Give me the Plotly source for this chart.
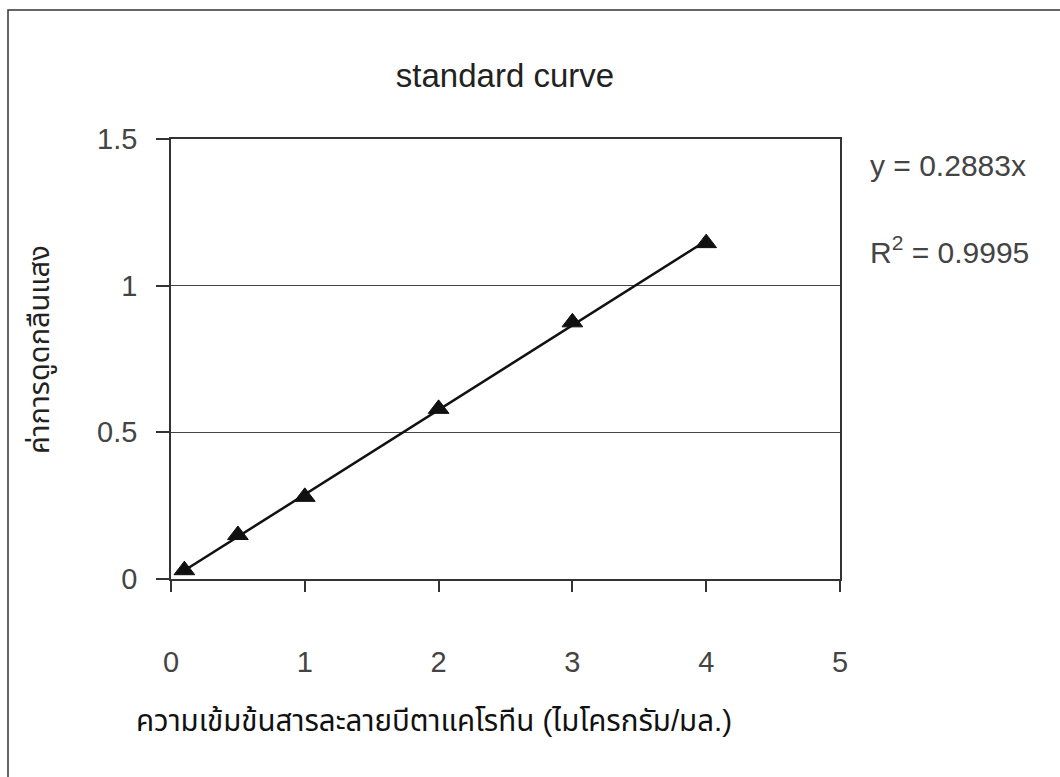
import numpy as np
import plotly.graph_objects as go

# Concentration of beta-carotene standard (µg/ml) and measured absorbance
concentration = [0.1, 0.5, 1, 2, 3, 4]
absorbance = [0.03, 0.15, 0.28, 0.58, 0.875, 1.145]

# Linear trendline forced through the origin
slope = 0.2883
r_squared = 0.9995

x_ticks = [0, 1, 2, 3, 4, 5]
y_ticks = [0, 0.5, 1, 1.5]
y_tick_text = ["0", "0.5", "1", "1.5"]

x_title = "ความเข้มข้นสารละลายบีตาแคโรทีน (ไมโครกรัม/มล.)"
y_title = "ค่าการดูดกลืนแสง"

font_family = "Liberation Sans, Arial, Noto Sans Thai, sans-serif"

FIG_W, FIG_H = 1060, 777
plot_l, plot_r, plot_t, plot_b = 171, 840, 139, 579


def px_x(px):
    return (px - plot_l) / (plot_r - plot_l)


def px_y(py):
    return (plot_b - py) / (plot_b - plot_t)


trend_x = np.array([min(concentration), max(concentration)])
trend_y = slope * trend_x

fig = go.Figure()
fig.add_trace(go.Scatter(
    x=concentration, y=absorbance, mode="markers",
    marker=dict(symbol="triangle-up", size=18, color="#111111",
                line=dict(color="#111111", width=1)),
    showlegend=False, cliponaxis=False,
))
fig.add_trace(go.Scatter(
    x=trend_x, y=trend_y, mode="lines",
    line=dict(color="#111111", width=2.5),
    showlegend=False,
))

fig.update_layout(
    width=FIG_W, height=FIG_H,
    margin=dict(l=plot_l, r=FIG_W - plot_r, t=plot_t, b=FIG_H - plot_b),
    paper_bgcolor="white", plot_bgcolor="white",
    font=dict(family=font_family, color="#333333"),
    title=dict(text="standard curve", x=px_x(505), xref="paper", xanchor="center",
               y=1 - 75 / FIG_H, yref="container", yanchor="middle",
               font=dict(size=33, color="#222222", family=font_family)),
    xaxis=dict(
        range=[0, 5], tickvals=x_ticks, ticktext=[str(v) for v in x_ticks],
        showgrid=False, zeroline=False,
        showline=True, linecolor="#333333", linewidth=1.5, mirror=True,
        ticks="outside", ticklen=11, tickcolor="#333333", tickwidth=1.5,
        ticklabelstandoff=45,
        tickfont=dict(size=29, color="#444444", family="Liberation Sans Narrow, " + font_family),
    ),
    yaxis=dict(
        range=[0, 1.5], tickvals=y_ticks, ticktext=y_tick_text,
        showgrid=True, gridcolor="#444444", gridwidth=1.3,
        zeroline=False,
        showline=True, linecolor="#333333", linewidth=1.5, mirror=True,
        ticks="outside", ticklen=13, tickcolor="#333333", tickwidth=1.5,
        ticklabelstandoff=13,
        tickfont=dict(size=29, color="#444444", family=font_family),
    ),
)

# Axis titles
fig.add_annotation(
    x=px_x(434), y=px_y(720), xref="paper", yref="paper", text=x_title,
    showarrow=False, xanchor="center", yanchor="middle",
    font=dict(size=29.5, color="#111111", family=font_family),
)
fig.add_annotation(
    x=px_x(40), y=px_y(350), xref="paper", yref="paper", text=y_title,
    showarrow=False, xanchor="center", yanchor="middle", textangle=-90,
    font=dict(size=29, color="#222222", family=font_family),
)

# Trendline equation and coefficient of determination
fig.add_annotation(
    x=px_x(868), y=px_y(165), xref="paper", yref="paper", text=f"y = {slope:.4f}x",
    showarrow=False, xanchor="left", yanchor="middle",
    font=dict(size=30, color="#444444", family=font_family),
)
fig.add_annotation(
    x=px_x(868), y=px_y(250), xref="paper", yref="paper",
    text=f"R<sup>2</sup> = {r_squared:.4f}",
    showarrow=False, xanchor="left", yanchor="middle",
    font=dict(size=30, color="#444444", family=font_family),
)

# Outer chart frame
fig.add_shape(
    type="rect", xref="paper", yref="paper",
    x0=px_x(8), x1=px_x(1100), y0=px_y(10), y1=px_y(820),
    line=dict(color="#333333", width=1.5), fillcolor="rgba(0,0,0,0)",
    layer="below",
)

fig.write_html("out.html")
